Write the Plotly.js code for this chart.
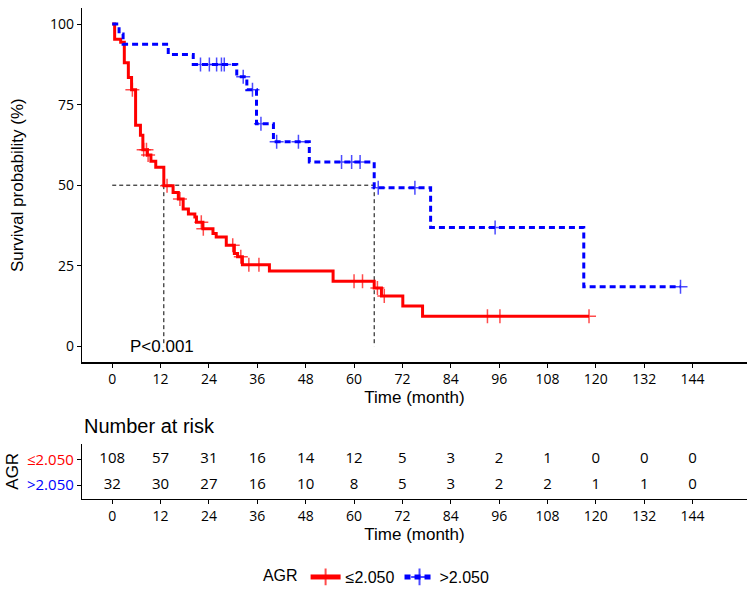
<!DOCTYPE html>
<html>
<head>
<meta charset="utf-8">
<script src="https://cdn.plot.ly/plotly-3.0.1.min.js"></script>
<style>html,body{margin:0;padding:0;background:#fff;}#chart{width:756px;height:602px;}</style>
</head>
<body>
<div id="chart"></div>
<script>
// ---- data ----
var groupNames = ["\u22642.050", ">2.050"];

// AGR <= 2.050 (red): step times (month) and survival (%) after each step
var redEventTime = [0, 0.6, 2.1, 3.0, 4.0, 4.8, 5.8, 7.0, 7.6, 8.7, 9.6, 10.8, 12.8, 15.1, 16.4, 17.6, 18.9, 20.5, 20.9, 22.5, 25.0, 25.8, 28.3, 30.3, 31.1, 32.3, 39.0, 54.8, 65.0, 66.8, 72.1, 77.0];
var redEventSurv = [100, 95.3, 94.4, 88.0, 83.4, 79.6, 68.6, 65.5, 61.0, 59.4, 57.4, 55.6, 49.8, 47.7, 45.7, 42.6, 41.1, 40.1, 38.5, 36.5, 35.0, 33.9, 31.4, 28.8, 27.8, 25.3, 23.4, 20.2, 18.1, 15.6, 12.5, 9.3];
var redCensorTime = [5.0, 7.8, 8.5, 8.9, 13.6, 16.8, 22.1, 22.6, 29.9, 31.9, 33.9, 36.4, 60.0, 62.1, 65.8, 67.5, 93.1, 96.2, 118.3];

// AGR > 2.050 (blue)
var blueEventTime = [0, 1.7, 2.7, 13.9, 20.1, 30.9, 33.4, 35.8, 40.0, 48.9, 65.0, 79.0, 117.0];
var blueEventSurv = [100, 96.9, 93.75, 90.6, 87.5, 83.7, 79.6, 69.1, 63.5, 57.2, 49.2, 36.9, 18.5];
var blueCensorTime = [21.9, 24.1, 25.9, 27.1, 27.8, 32.5, 34.8, 36.9, 40.8, 46.2, 56.9, 59.4, 61.5, 66.0, 75.1, 95.0, 141.0];

// median survival times
var medianRed = 12.8;
var medianBlue = 65.0;
var medianLevel = 50;

// number at risk
var riskTimes = [0, 12, 24, 36, 48, 60, 72, 84, 96, 108, 120, 132, 144];
var riskLow  = [108, 57, 31, 16, 14, 12, 5, 3, 2, 1, 0, 0, 0];
var riskHigh = [32, 30, 27, 16, 10, 8, 5, 3, 2, 2, 1, 1, 0];

var yTicks = [0, 25, 50, 75, 100];
var pText = "P<0.001";
var pTime = 3.9;

// ---- build ----
var RED = "#FF0000", BLUE = "#0000FF";
var TICKFONT = "Open Sans, Liberation Sans, sans-serif";
var TITLEFONT = "Liberation Sans, Arial, Helvetica, sans-serif";

function stepAt(ts, ss, t) {
  var v = ss[0];
  for (var i = 0; i < ts.length; i++) { if (ts[i] <= t) v = ss[i]; }
  return v;
}
function kmTrace(ts, ss, cs, color, dash, name) {
  var pts = [];
  for (var i = 0; i < ts.length; i++) pts.push({t: ts[i], s: ss[i], c: 0});
  for (var j = 0; j < cs.length; j++) pts.push({t: cs[j], s: stepAt(ts, ss, cs[j]), c: 1});
  pts.sort(function (a, b) { return a.t - b.t || a.c - b.c; });
  return {
    type: "scatter", mode: "lines+markers", name: name,
    x: pts.map(function (p) { return p.t; }),
    y: pts.map(function (p) { return p.s; }),
    xaxis: "x", yaxis: "y",
    line: {color: color, width: 3, shape: "hv", dash: dash},
    marker: {symbol: "cross-thin", color: color,
             size: pts.map(function (p) { return p.c ? 10 : 0; }),
             line: {color: color, width: 1.5}},
    cliponaxis: false, hoverinfo: "skip"
  };
}

var redTrace = kmTrace(redEventTime, redEventSurv, redCensorTime, RED, "solid", groupNames[0]);
var blueTrace = kmTrace(blueEventTime, blueEventSurv, blueCensorTime, BLUE, "6px,4px", groupNames[1]);

var medTrace = {
  type: "scatter", mode: "lines", showlegend: false, hoverinfo: "skip",
  x: [0, medianBlue, null, medianRed, medianRed, null, medianBlue, medianBlue],
  y: [medianLevel, medianLevel, null, medianLevel, 0, null, medianLevel, 0],
  line: {color: "black", width: 1, dash: "4px,3px"},
  xaxis: "x", yaxis: "y"
};

var riskX = riskTimes.concat(riskTimes);
var riskY = riskTimes.map(function () { return 1; }).concat(riskTimes.map(function () { return 0; }));
var riskT = riskLow.concat(riskHigh).map(String);
var riskTrace = {
  type: "scatter", mode: "text", showlegend: false, hoverinfo: "skip",
  x: riskX, y: riskY, text: riskT,
  textfont: {family: TICKFONT, size: 15, color: "black"},
  xaxis: "x2", yaxis: "y2", cliponaxis: false
};

var axisBase = {
  showline: true, linecolor: "black", linewidth: 1.2, mirror: false,
  ticks: "outside", ticklen: 4, tickwidth: 1, tickcolor: "black",
  showgrid: false, zeroline: false, automargin: false,
  tickfont: {family: TICKFONT, size: 14, color: "black"}
};
function ax(extra) { var o = {}; for (var k in axisBase) o[k] = axisBase[k]; for (var e in extra) o[e] = extra[e]; return o; }

var layout = {
  width: 756, height: 602,
  margin: {l: 82, r: 9, t: 8, b: 98},
  paper_bgcolor: "white", plot_bgcolor: "white",
  font: {family: TITLEFONT, color: "black"},
  xaxis: ax({anchor: "y", domain: [0, 1], range: [-7.5, 157.5], tickmode: "array", tickvals: riskTimes,
             title: {text: "Time (month)", font: {size: 17, family: TITLEFONT}, standoff: 3}}),
  yaxis: ax({anchor: "x", domain: [0.2782, 1], range: [-5, 105], tickmode: "array", tickvals: yTicks,
             title: {text: "Survival probability (%)", font: {size: 17, family: TITLEFONT}, standoff: 22}}),
  xaxis2: ax({anchor: "y2", domain: [0, 1], range: [-7.5, 157.5], tickmode: "array", tickvals: riskTimes,
              title: {text: "Time (month)", font: {size: 17, family: TITLEFONT}, standoff: 2}}),
  yaxis2: ax({anchor: "x2", domain: [0, 0.1129], range: [-0.54, 1.62], tickmode: "array", tickvals: [1, 0],
              ticktext: ['<span style="color:' + RED + '">' + groupNames[0] + '</span>',
                         '<span style="color:' + BLUE + '">' + groupNames[1] + '</span>'],
              tickfont: {family: TICKFONT, size: 15, color: "black"},
              title: {text: "AGR", font: {size: 17, family: TITLEFONT}, standoff: 4}}),
  annotations: [
    {xref: "x", yref: "y", x: pTime, y: 0, text: pText, showarrow: false, xanchor: "left", yanchor: "middle",
     font: {family: TITLEFONT, size: 17, color: "black"}},
    {xref: "paper", yref: "paper", x: 0, y: 0.149, text: "Number at risk", showarrow: false,
     xanchor: "left", yanchor: "middle", font: {family: TITLEFONT, size: 20, color: "black"}}
  ],
  showlegend: true,
  legend: {orientation: "h", x: 0.445, xanchor: "center", y: -0.159, yanchor: "middle",
           title: {text: "AGR", side: "left", font: {size: 16, family: TITLEFONT}},
           font: {size: 16, family: TITLEFONT}, itemsizing: "constant",
           bgcolor: "rgba(0,0,0,0)"}
};

Plotly.newPlot("chart", [medTrace, redTrace, blueTrace, riskTrace], layout, {displayModeBar: false, staticPlot: true});
</script>
</body>
</html>
